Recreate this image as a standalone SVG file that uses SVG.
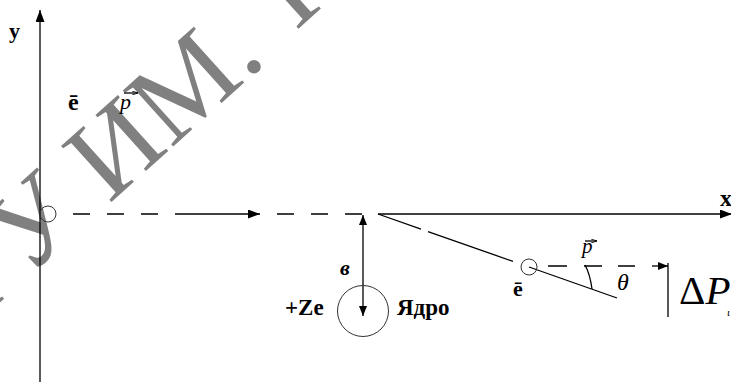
<svg xmlns="http://www.w3.org/2000/svg" width="731" height="382" viewBox="0 0 731 382">
<style>
.ln{stroke:#000;stroke-width:1.3;fill:none}
.thin{stroke:#333;stroke-width:1;fill:none}
.t{font-family:"Liberation Serif","Times New Roman",serif;fill:#000}
.b{font-weight:bold}
.i{font-style:italic}
.wm{font-family:"Liberation Serif","Times New Roman",serif;fill:#808080}
</style>
<defs>
<marker id="ah" viewBox="0 0 12 9" refX="12" refY="4.5" markerWidth="12" markerHeight="9" orient="auto" markerUnits="userSpaceOnUse"><path d="M0,0 L12,4.5 L0,9 z" fill="#000"/></marker>
<marker id="ahs" viewBox="0 0 10 8" refX="10" refY="4" markerWidth="10" markerHeight="8" orient="auto" markerUnits="userSpaceOnUse"><path d="M0,0 L10,4 L0,8 z" fill="#000"/></marker>
<marker id="va" viewBox="0 0 6 4" refX="6" refY="2" markerWidth="6" markerHeight="4" orient="auto" markerUnits="userSpaceOnUse"><path d="M0,0 L6,2 L0,4" fill="none" stroke="#000" stroke-width="0.8"/></marker>
</defs>
<g id="watermark">
<text class="wm" font-size="115" text-anchor="end" transform="translate(268,61) rotate(-42)">ГУ ИМ.</text>
<text class="wm" font-size="115" transform="translate(296,31) rotate(-42)">П</text>
</g>
<g id="connectors">
<line id="y-axis" class="ln" x1="40" y1="382" x2="40" y2="10" marker-end="url(#ah)"/>
<line id="x-axis" class="ln" x1="378" y1="214" x2="732" y2="214" marker-end="url(#ah)"/>
<g id="incoming">
<path class="ln" d="M73,214 H90 M107,214 H124 M141,214 H158 M277,214 H294 M311,214 H328 M345,214 H362"/>
<line class="ln" x1="175" y1="214" x2="260" y2="214" marker-end="url(#ah)"/>
</g>
<g id="impact">
<line class="ln" x1="363" y1="240" x2="363" y2="215" marker-end="url(#ahs)"/>
<line class="ln" x1="363" y1="240" x2="363" y2="316" marker-end="url(#ahs)"/>
</g>
<g id="scattered">
<path class="ln" d="M378,214 L421,229.1 M428,231.6 L513,261.4"/>
<line class="ln" x1="529" y1="267" x2="617" y2="298"/>
</g>
<g id="momentum">
<path class="ln" d="M548,266 H567 M584,266 H602 M618,266 H635"/>
<line class="ln" x1="652" y1="266" x2="668" y2="266" marker-end="url(#ahs)"/>
<line class="ln" x1="668" y1="263" x2="668" y2="317"/>
</g>
<path id="angle" class="ln" d="M585,265 Q590,274 592,289"/>
</g>
<g id="electron-in">
<circle class="thin" cx="48" cy="214" r="8"/>
</g>
<g id="electron-out">
<circle class="thin" cx="529" cy="267" r="8"/>
</g>
<g id="nucleus">
<circle class="thin" cx="363" cy="311" r="25.5"/>
</g>
<g id="labels">
<text class="t b" x="9" y="38" font-size="22">y</text>
<text class="t b" x="720" y="206" font-size="24">x</text>
<text class="t b" x="68" y="110" font-size="24">ē</text>
<text class="t i" x="120" y="109" font-size="22">p</text>
<line class="ln" stroke-width="0.9" x1="124" y1="93" x2="138" y2="93" marker-end="url(#va)"/>
<text class="t b i" x="340" y="275" font-size="22">в</text>
<text class="t b" x="285" y="315" font-size="23">+Ze</text>
<text class="t b" x="397" y="315" font-size="23">Ядро</text>
<text class="t b" x="513" y="296" font-size="22">ē</text>
<text class="t i" x="582" y="253" font-size="21">p</text>
<line class="ln" stroke-width="0.9" x1="585" y1="241" x2="597" y2="241" marker-end="url(#va)"/>
<text class="t i" x="617" y="290" font-size="24">θ</text>
<text class="t" x="679" y="304" font-size="41">Δ<tspan class="i">P</tspan></text>
<text class="t i" x="727" y="316" font-size="11">ι</text>
</g>
</svg>
